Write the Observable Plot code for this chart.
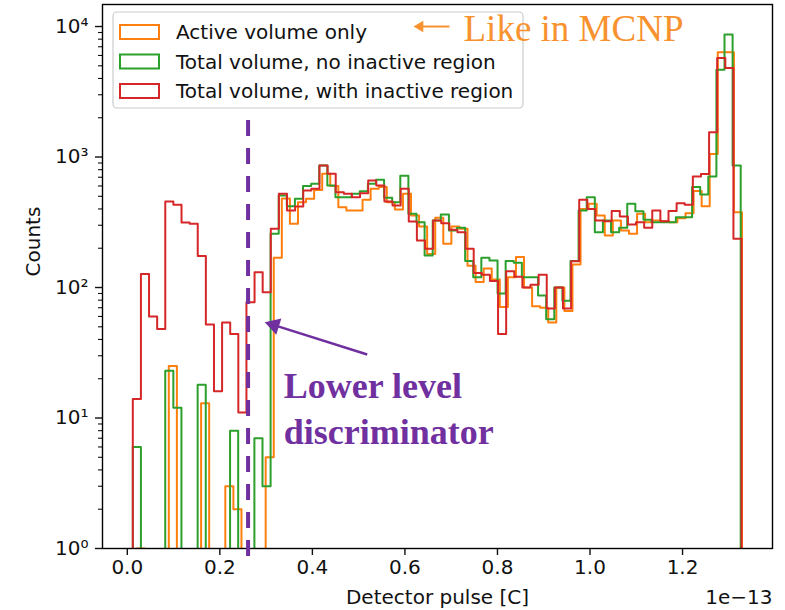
<!DOCTYPE html>
<html><head><meta charset="utf-8">
<script src="https://cdn.jsdelivr.net/npm/d3@7"></script>
<script src="https://cdn.jsdelivr.net/npm/@observablehq/plot@0.6"></script>
<style>body{margin:0;background:#fff} #chart svg{display:block}</style>
</head><body><div id="chart"></div>
<script>
// ---------- data ----------
const seriesNames = ["Active volume only", "Total volume, no inactive region", "Total volume, with inactive region"];
const seriesColors = ["#ff7f0e", "#2ca02c", "#d62728"];

// histogram range of each series (units of 1e-13 C), 75 equal bins each
const activeRange = [0.0199, 1.3285];
const noInactiveRange = [0.0119, 1.3257];
const withInactiveRange = [0.0119, 1.3275];

const activeCounts = [1,0,0,0,25,0,0,0,13,0,
 0,3,2,0,0,0,5,169,480,308,
 450,478,560,743,600,413,389,389,470,571,
 590,451,396,523,356,293,181,342,216,293,
 282,147,110,140,115,71,120,171,100,72,
 70,54,100,66,150,400,438,357,250,326,
 273,258,367,316,326,322,316,340,371,550,
 420,1057,6350,6350,378];
const noInactiveCounts = [6,0,0,0,23,12,0,0,18,0,
 0,0,8,0,0,7,3,258,507,420,
 478,600,623,861,605,492,492,523,547,623,
 669,487,451,720,367,316,176,326,362,273,
 287,160,120,169,161,90,160,155,120,120,
 87,57,100,79,160,390,492,265,326,265,
 287,438,384,330,316,316,316,346,346,590,
 517,709,4660,8690,861];
const withInactiveCounts = [14,127,60,48,456,430,315,308,174,52,
 16,54,44,11,77,131,92,282,523,389,
 418,554,571,861,743,538,523,492,528,661,
 605,456,425,571,320,229,198,326,311,277,
 265,198,129,125,112,44,133,121,100,105,
 125,69,100,69,159,470,400,326,322,385,
 350,304,316,287,389,322,385,443,430,709,
 740,1549,5750,4820,236];

const xTicks = [0.0, 0.2, 0.4, 0.6, 0.8, 1.0, 1.2];
const yTicks = [1, 10, 100, 1000, 10000];
const yTickLabels = ["10\u2070", "10\u00B9", "10\u00B2", "10\u00B3", "10\u2074"];
const yMinorTicks = [2,3,4,5,6,7,8,9, 20,30,40,50,60,70,80,90, 200,300,400,500,600,700,800,900, 2000,3000,4000,5000,6000,7000,8000,9000];
const xDomain = [-0.0536, 1.3944];
const yDomain = [1, 14750];
const xLabel = "Detector pulse [C]";
const yLabel = "Counts";
const xOffsetText = "1e\u221213";

// annotations (data coordinates)
const lldX = 0.261;
const lldSpan = [0.87, 1970];
const lldText = [{x: 0.3382, y: 17.3, t: "Lower level"}, {x: 0.3382, y: 7.77, t: "discriminator"}];
const lldArrow = {tail: [0.5185, 30.7], head: [0.2971, 54.2]};
const mcnpText = {x: 0.7266, y: 9572, t: "Like in MCNP"};
const mcnpArrow = {tail: [0.6963, 10000], head: [0.6185, 10000]};

// ---------- build ----------
const W = 785, H = 610, mL = 102, mR = 13, mT = 4, mB = 62;
const FS = 20;
const xS = d3.scaleLinear(xDomain, [mL, W - mR]);
const yS = d3.scaleLog(yDomain, [H - mB, mT]);

function steps(counts, range) {
  const [lo, hi] = range, w = (hi - lo) / counts.length;
  const floorV = 0.5; // empty bins fall below the axes
  const pts = [{x: lo, y: floorV}];
  counts.forEach((c, i) => {
    const v = c > 0 ? c : floorV;
    pts.push({x: lo + i * w, y: v}, {x: lo + (i + 1) * w, y: v});
  });
  pts.push({x: hi, y: floorV});
  return pts;
}
function arrowParts(a, r) {
  const t = [xS(a.tail[0]), yS(a.tail[1])], h = [xS(a.head[0]), yS(a.head[1])];
  const dx = h[0] - t[0], dy = h[1] - t[1], L = Math.hypot(dx, dy);
  const c = [h[0] - dx / L * 1.555 * r, h[1] - dy / L * 1.555 * r];
  return {
    link: [{x1: a.tail[0], y1: a.tail[1], x2: xS.invert(c[0]), y2: yS.invert(c[1])}],
    tip: [{x: xS.invert(c[0]), y: yS.invert(c[1])}],
    rotate: Math.atan2(dy, dx) * 180 / Math.PI + 90
  };
}
const pArrow = arrowParts(lldArrow, 6.3);
const oArrow = arrowParts(mcnpArrow, 4.2);
const purple = "#7030a0";
const orangeTxt = "#f7922e";

const plot = Plot.plot({
  width: W, height: H,
  marginLeft: mL, marginRight: mR, marginTop: mT, marginBottom: mB,
  style: {fontFamily: "DejaVu Sans", fontSize: FS + "px", color: "#111", background: "#fff", overflow: "visible"},
  x: {domain: xDomain, label: null},
  y: {type: "log", domain: yDomain, label: null},
  marks: [
    Plot.axisX({ticks: xTicks, tickFormat: d3.format(".1f"), tickSize: 7, tickPadding: 4, strokeWidth: 1.4, fontSize: FS, label: null}),
    Plot.axisY({ticks: yTicks, tickFormat: d => yTickLabels[yTicks.indexOf(d)], tickSize: 7, tickPadding: 7, strokeWidth: 1.4, fontSize: FS, label: null}),
    Plot.axisY({ticks: yMinorTicks, tickFormat: () => "", tickSize: 4, strokeWidth: 1.1, label: null}),
    Plot.line(steps(activeCounts, activeRange), {x: "x", y: "y", stroke: seriesColors[0], strokeWidth: 2, clip: true}),
    Plot.line(steps(noInactiveCounts, noInactiveRange), {x: "x", y: "y", stroke: seriesColors[1], strokeWidth: 2, clip: true}),
    Plot.line(steps(withInactiveCounts, withInactiveRange), {x: "x", y: "y", stroke: seriesColors[2], strokeWidth: 2, clip: true}),
    Plot.frame({stroke: "#000", strokeWidth: 1.4}),
    Plot.text([yLabel], {frameAnchor: "left", dx: -69, rotate: -90, fontSize: FS}),
    Plot.text([xLabel], {frameAnchor: "bottom", dy: 55, fontSize: FS}),
    Plot.text([xOffsetText], {frameAnchor: "bottom-right", textAnchor: "end", dy: 55, fontSize: FS}),
    // annotations
    Plot.ruleX([lldX], {y1: lldSpan[0], y2: lldSpan[1], stroke: purple, strokeWidth: 4, strokeDasharray: "16,12"}),
    Plot.link(pArrow.link, {x1: "x1", y1: "y1", x2: "x2", y2: "y2", stroke: purple, strokeWidth: 2.5}),
    Plot.dot(pArrow.tip, {x: "x", y: "y", r: 6.3, symbol: "triangle", fill: purple, stroke: null, rotate: pArrow.rotate}),
    Plot.text(lldText, {x: "x", y: "y", text: "t", textAnchor: "start", fontFamily: "Liberation Serif", fontWeight: "bold", fontSize: 36, fill: purple}),
    Plot.link(oArrow.link, {x1: "x1", y1: "y1", x2: "x2", y2: "y2", stroke: orangeTxt, strokeWidth: 2}),
    Plot.dot(oArrow.tip, {x: "x", y: "y", r: 4.2, symbol: "triangle", fill: orangeTxt, stroke: null, rotate: oArrow.rotate}),
    Plot.text([mcnpText], {x: "x", y: "y", text: "t", textAnchor: "start", fontFamily: "Liberation Serif", fontSize: 37, fill: orangeTxt})
  ]
});

// legend inside the axes, under the annotations
const legend = document.createElementNS("http://www.w3.org/2000/svg", "g");
const lg = d3.select(legend).attr("font-family", "DejaVu Sans").attr("font-size", FS)
  .attr("fill", "#111").attr("text-anchor", "start");
lg.append("rect").attr("x", 113).attr("y", 12).attr("width", 410).attr("height", 96).attr("rx", 4)
  .attr("fill", "#fff").attr("fill-opacity", 0.8).attr("stroke", "#ccc").attr("stroke-width", 1.2);
seriesNames.forEach((name, i) => {
  const cy = 32 + i * 29.5;
  lg.append("rect").attr("x", 120).attr("y", cy - 7).attr("width", 39).attr("height", 14)
    .attr("fill", "none").attr("stroke", seriesColors[i]).attr("stroke-width", 2);
  lg.append("text").attr("x", 176).attr("y", cy + 7).attr("text-anchor", "start").text(name);
});
const frameEl = plot.querySelector('[aria-label="frame"]');
if (frameEl) frameEl.after(legend); else plot.appendChild(legend);

document.getElementById("chart").appendChild(plot);
</script></body></html>
